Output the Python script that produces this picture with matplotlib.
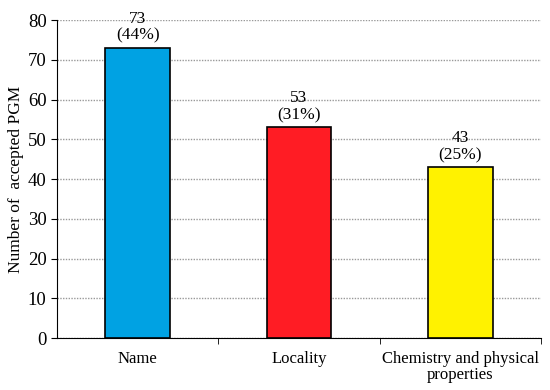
import matplotlib.pyplot as plt

categories = ['Name', 'Locality', 'Chemistry and physical\nproperties']
counts = [73, 53, 43]
percents = [44, 31, 25]
colors = ['#00A2E3', '#FF1C24', '#FFF200']

plt.rcParams['font.family'] = ['Liberation Serif', 'DejaVu Serif']

fig = plt.figure(figsize=(5.5, 3.9), dpi=100)
ax = fig.add_axes([0.1036, 0.1333, 0.88, 0.8154])

x = range(len(categories))
bars = ax.bar(x, counts, width=0.4, color=colors, edgecolor='black', linewidth=1.2, zorder=3)

# value labels above the bars
for b, c, p in zip(bars, counts, percents):
    ax.text(b.get_x() + b.get_width() / 2, c + 1, f'{c}\n({p}%)',
            ha='center', va='bottom', fontsize=12.5, linespacing=1.1)

ax.set_xlim(-0.5, 2.5)
ax.set_ylim(0, 80)
ax.set_yticks(range(0, 81, 10))
ax.set_xticks(list(x))
ax.set_xticklabels(categories, fontsize=12, linespacing=1.0)
ax.set_xticks([0.5, 1.5, 2.5], minor=True)
ax.tick_params(axis='x', which='major', length=0, pad=9)
ax.tick_params(axis='x', which='minor', length=4, direction='out')
ax.tick_params(axis='y', labelsize=13.5, length=4, direction='out')
ax.yaxis.grid(True, color='#999999', linestyle=(0, (1, 1)), linewidth=1, zorder=0)

ax.spines['top'].set_visible(False)
ax.spines['right'].set_visible(False)
ax.set_ylabel('Number of  accepted PGM', fontsize=12.5, labelpad=3)

fig.savefig('out.png')
